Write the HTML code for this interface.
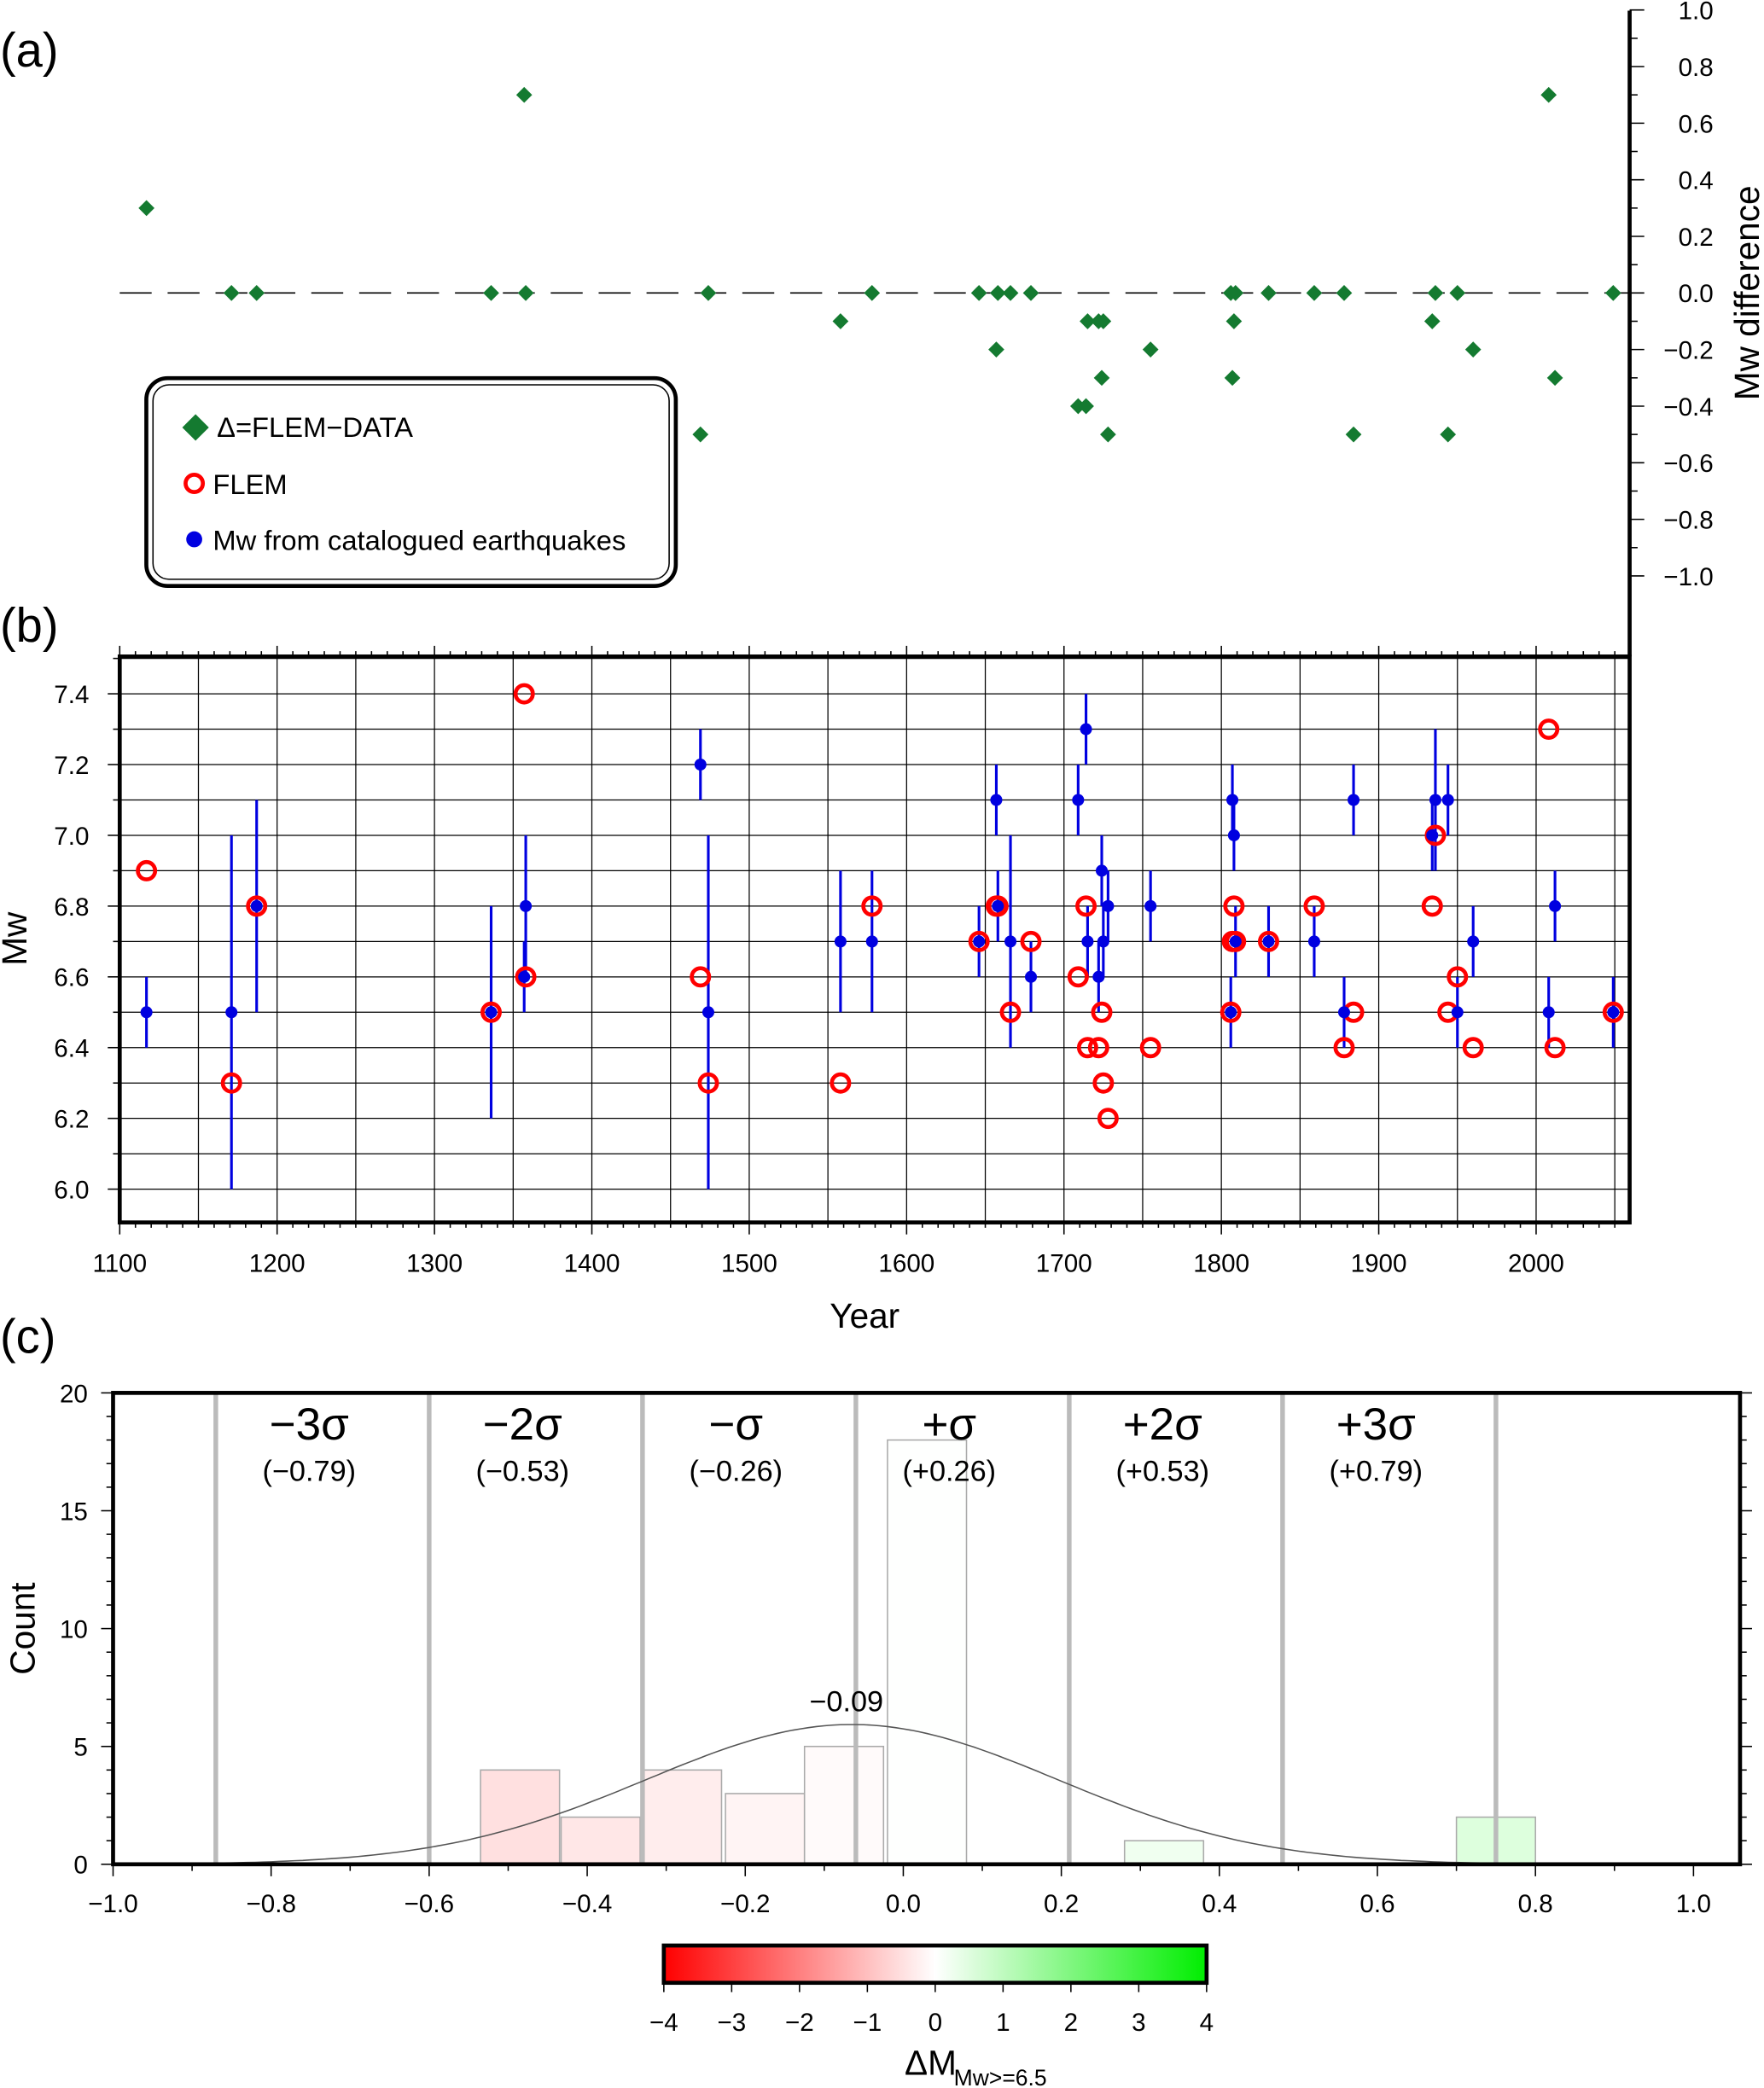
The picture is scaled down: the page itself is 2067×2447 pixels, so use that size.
<!DOCTYPE html>
<html><head><meta charset="utf-8"><style>
html,body{margin:0;padding:0;background:#fff}
svg{display:block;font-family:"Liberation Sans",sans-serif}
</style></head><body>
<svg id="fig" width="2067" height="2447" viewBox="0 0 1326 1568" preserveAspectRatio="none" xmlns="http://www.w3.org/2000/svg">
<defs><linearGradient id="cg" x1="0" x2="1" y1="0" y2="0"><stop offset="0" stop-color="#ff0000"/><stop offset="0.5" stop-color="#ffffff"/><stop offset="1" stop-color="#00ee00"/></linearGradient></defs>
<g id="pa"></g>
<g id="pb"></g>
<g id="pc"></g>
</svg>
<script>
const years=[1117,1171,1187,1336,1357,1358,1469,1474,1558,1578,1646,1657,1658,1666,1679,1709,1714,1715,1722,1724,1725,1728,1755,1806,1807,1808,1809,1830,1859,1878,1884,1934,1936,1944,1950,1960,2008,2012,2049];
const mwData=[6.5,6.5,6.8,6.5,6.6,6.8,7.2,6.5,6.7,6.7,6.7,7.1,6.8,6.7,6.6,7.1,7.3,6.7,6.6,6.9,6.7,6.8,6.8,6.5,7.1,7.0,6.7,6.7,6.7,6.5,7.1,7.0,7.1,7.1,6.5,6.7,6.5,6.8,6.5];
const errLo=[6.4,6.0,6.5,6.2,6.5,6.6,7.1,6.0,6.5,6.5,6.6,7.0,6.7,6.4,6.5,7.0,7.2,6.6,6.5,6.8,6.6,6.7,6.7,6.4,7.0,6.9,6.6,6.6,6.6,6.4,7.0,6.9,6.9,7.0,6.4,6.6,6.4,6.7,6.4];
const errHi=[6.6,7.0,7.1,6.8,6.7,7.0,7.3,7.0,6.9,6.9,6.8,7.2,6.9,7.0,6.7,7.2,7.4,6.8,6.7,7.0,6.8,6.9,6.9,6.6,7.2,7.1,6.8,6.8,6.8,6.6,7.2,7.1,7.3,7.2,6.6,6.8,6.6,6.9,6.6];
const flem=[6.9,6.3,6.8,6.5,7.4,6.6,6.6,6.3,6.3,6.8,6.7,6.8,6.8,6.5,6.7,6.6,6.8,6.4,6.4,6.5,6.3,6.2,6.4,6.5,6.7,6.8,6.7,6.7,6.8,6.4,6.5,6.8,7.0,6.5,6.6,6.4,7.3,6.4,6.5];
const delta=[0.3,0.0,0.0,0.0,0.7,0.0,-0.5,0.0,-0.1,0.0,0.0,-0.2,0.0,0.0,0.0,-0.4,-0.4,-0.1,-0.1,-0.3,-0.1,-0.5,-0.2,0.0,-0.3,-0.1,0.0,0.0,0.0,0.0,-0.5,-0.1,0.0,-0.5,0.0,-0.2,0.7,-0.3,0.0];
const binCenters=[-0.485,-0.383,-0.28,-0.175,-0.075,0.03,0.33,0.75];
const binCounts=[4,2,4,3,5,18,1,2];
const sigmaVals=[-0.87,-0.60,-0.33,-0.06,0.21,0.48,0.75];
const sigmaLabels=["\u22123\u03c3","\u22122\u03c3","\u2212\u03c3","+\u03c3","+2\u03c3","+3\u03c3"];
const sigmaVals2=["(\u22120.79)","(\u22120.53)","(\u22120.26)","(+0.26)","(+0.53)","(+0.79)"];
const gMean=-0.09, gSigma=0.26, gPeak=5.93;
const NS="http://www.w3.org/2000/svg";
function mk(p,t,a,txt){const e=document.createElementNS(NS,t);for(const k in a)e.setAttribute(k,a[k]);if(txt!==undefined)e.textContent=txt;p.appendChild(e);return e;}
const pa=document.getElementById('pa'),pb=document.getElementById('pb'),pc=document.getElementById('pc');
const X=y=>90+(y-1100)*1.183;
const Yb=m=>893-(m-6.0)*265.7;
const Ya=d=>220-d*212.5;
let e;
e=mk(pa,'text',{x:0,y:50,'font-size':36},'(a)');


e=mk(pa,'line',{x1:90,x2:1225,y1:220,y2:220,stroke:'#000','stroke-width':1,'stroke-dasharray':'24,12'});


e=mk(pa,'line',{x1:1225,x2:1225,y1:8,y2:493,stroke:'#000','stroke-width':3});


for(let v=-1.0;v<=1.001;v+=0.1){const yy=Ya(v);const major=Math.abs(Math.round(v*10))%2===0;
 e=mk(pa,'line',{x1:1225,x2:major?1236:1231,y1:yy,y2:yy,stroke:'#000','stroke-width':1});
 
 
 if(major){const s=(v<-0.001?'\u2212':'')+Math.abs(v).toFixed(1);
 e=mk(pa,'text',{x:1288,y:yy+7,'font-size':19,'text-anchor':'end'},s);
 
 }}
e=mk(pa,'text',{x:0,y:0,'font-size':26,'text-anchor':'middle',transform:'translate(1322,220) rotate(-90)'},'Mw difference');


years.forEach((yr,i)=>{const cx=X(yr),cy=Ya(delta[i]);
 e=mk(pa,'path',{d:`M${cx} ${cy-6}L${cx+6} ${cy}L${cx} ${cy+6}L${cx-6} ${cy}Z`,fill:'#147a30'});
 
 });
e=mk(pa,'rect',{x:110,y:284,width:398,height:156,rx:16,fill:'#fff',stroke:'#000','stroke-width':3});


e=mk(pa,'rect',{x:115,y:289,width:388,height:146,rx:12,fill:'none',stroke:'#000','stroke-width':1});


e=mk(pa,'path',{d:'M147 311L157 321L147 331L137 321Z',fill:'#147a30'});


e=mk(pa,'text',{x:163,y:328,'font-size':21},'\u0394=FLEM\u2212DATA');


e=mk(pa,'circle',{cx:146,cy:363,r:6.5,fill:'none',stroke:'#f00','stroke-width':3});


e=mk(pa,'text',{x:160,y:371,'font-size':21},'FLEM');


e=mk(pa,'circle',{cx:146,cy:405,r:6,fill:'#0000e0'});


e=mk(pa,'text',{x:160,y:413,'font-size':21},'Mw from catalogued earthquakes');


e=mk(pb,'text',{x:0,y:482,'font-size':36},'(b)');


for(let yr=1150;yr<2059;yr+=50){e=mk(pb,'line',{x1:X(yr),x2:X(yr),y1:493,y2:918,stroke:'#000','stroke-width':0.8});
 
 }
for(let m=6.0;m<7.51;m+=0.1){e=mk(pb,'line',{x1:90,x2:1225,y1:Yb(m),y2:Yb(m),stroke:'#000','stroke-width':0.8});
 
 }
for(let yr=1100;yr<=2059;yr+=10){const big=yr%100===0;
 e=mk(pb,'line',{x1:X(yr),x2:X(yr),y1:493,y2:big?485:489,stroke:'#000','stroke-width':1});
 
 
 e=mk(pb,'line',{x1:X(yr),x2:X(yr),y1:918,y2:big?927:922,stroke:'#000','stroke-width':1});
 
 
 if(big){e=mk(pb,'text',{x:X(yr),y:955,'font-size':19,'text-anchor':'middle'},String(yr));
 
 }}
for(let m=6.0;m<7.51;m+=0.1){const big=Math.round(m*10)%2===0;
 e=mk(pb,'line',{x1:90,x2:big?81:85,y1:Yb(m),y2:Yb(m),stroke:'#000','stroke-width':1});
 
 
 if(big&&m<7.45){e=mk(pb,'text',{x:67,y:Yb(m)+7,'font-size':19,'text-anchor':'end'},m.toFixed(1));
 
 }}
e=mk(pb,'rect',{x:90,y:493,width:1135,height:425,fill:'none',stroke:'#000','stroke-width':3});


e=mk(pb,'text',{x:0,y:0,'font-size':26,'text-anchor':'middle',transform:'translate(20,705) rotate(-90)'},'Mw');


e=mk(pb,'text',{x:650,y:997,'font-size':26,'text-anchor':'middle'},'Year');


years.forEach((yr,i)=>{e=mk(pb,'line',{x1:X(yr),x2:X(yr),y1:Yb(errLo[i]),y2:Yb(errHi[i]),stroke:'#0000e0','stroke-width':2});
 
 });
years.forEach((yr,i)=>{e=mk(pb,'circle',{cx:X(yr),cy:Yb(flem[i]),r:6.5,fill:'none',stroke:'#f00','stroke-width':3});
 
 });
years.forEach((yr,i)=>{e=mk(pb,'circle',{cx:X(yr),cy:Yb(mwData[i]),r:4.5,fill:'#0000e0'});
 
 });
const Xc=v=>679+v*594;
const Yc=c=>1400-c*17.7;
e=mk(pc,'text',{x:0,y:1016,'font-size':36},'(c)');


function colorFor(v){
 if(v<0){const k=Math.min(1,-v*0.5);return `rgb(255,${Math.round(255-k*255*0.5)},${Math.round(255-k*255*0.5)})`;}
 const k=Math.min(1,v*0.3);return `rgb(${Math.round(255-k*255*0.6)},255,${Math.round(255-k*255*0.6)})`;}
binCenters.forEach((c,i)=>{e=mk(pc,'rect',{x:Xc(c-0.05),y:Yc(binCounts[i]),width:59.4,height:Yc(0)-Yc(binCounts[i]),fill:colorFor(c),stroke:'#aaa','stroke-width':1});
 
 });
sigmaVals.forEach(v=>{e=mk(pc,'line',{x1:Xc(v),x2:Xc(v),y1:1046,y2:1400,stroke:'#bbb','stroke-width':3.5});
 
 });
sigmaLabels.forEach((s,i)=>{const cx=(Xc(sigmaVals[i])+Xc(sigmaVals[i+1]))/2-10;
 e=mk(pc,'text',{x:cx,y:1081,'font-size':34,'text-anchor':'middle'},s);
 
 
 e=mk(pc,'text',{x:cx,y:1112,'font-size':22,'text-anchor':'middle'},sigmaVals2[i]);
 
 });
const drawMean=gMean+0.025;
let d='';for(let v=-0.87;v<=0.76;v+=0.01){const c=gPeak*Math.exp(-0.5*((v-drawMean)/gSigma)**2);d+=(d?'L':'M')+Xc(v).toFixed(1)+' '+Yc(c).toFixed(1);}
e=mk(pc,'path',{d:d,fill:'none',stroke:'#555','stroke-width':1});


e=mk(pc,'text',{x:Xc(drawMean)-32,y:Yc(gPeak)-10,'font-size':22},'\u22120.09');


e=mk(pc,'rect',{x:85,y:1046,width:1223,height:354,fill:'none',stroke:'#000','stroke-width':3});


for(let v=-1.0;v<=1.06;v+=0.1){const big=Math.round(v*10)%2===0;
 e=mk(pc,'line',{x1:Xc(v),x2:Xc(v),y1:1400,y2:big?1409:1405,stroke:'#000','stroke-width':1});
 
 
 if(big&&v<1.01){e=mk(pc,'text',{x:Xc(v),y:1436,'font-size':19,'text-anchor':'middle'},(v<-0.001?'\u2212':'')+Math.abs(v).toFixed(1));
 
 }}
for(let c=0;c<=20;c+=1){const big=c%5===0;
 e=mk(pc,'line',{x1:85,x2:big?76:80,y1:Yc(c),y2:Yc(c),stroke:'#000','stroke-width':1});
 
 
 e=mk(pc,'line',{x1:1308,x2:big?1317:1313,y1:Yc(c),y2:Yc(c),stroke:'#000','stroke-width':1});
 
 
 if(big){e=mk(pc,'text',{x:66,y:Yc(c)+7,'font-size':19,'text-anchor':'end'},String(c));
 
 }}
e=mk(pc,'text',{x:0,y:0,'font-size':26,'text-anchor':'middle',transform:'translate(26,1223) rotate(-90)'},'Count');


e=mk(pc,'rect',{x:499,y:1461,width:408,height:28,fill:'url(#cg)',stroke:'#000','stroke-width':3});


for(let k=-4;k<=4;k++){const xx=703+k*51;
 e=mk(pc,'line',{x1:xx,x2:xx,y1:1489,y2:1496,stroke:'#000','stroke-width':1});
 
 
 e=mk(pc,'text',{x:xx,y:1525,'font-size':19,'text-anchor':'middle'},(k<0?'\u2212':'')+Math.abs(k));
 
 }
e=mk(pc,'text',{x:680,y:1558,'font-size':26},'\u0394M');


e=mk(pc,'text',{x:717,y:1566,'font-size':17},'Mw>=6.5');


</script>
</body></html>
